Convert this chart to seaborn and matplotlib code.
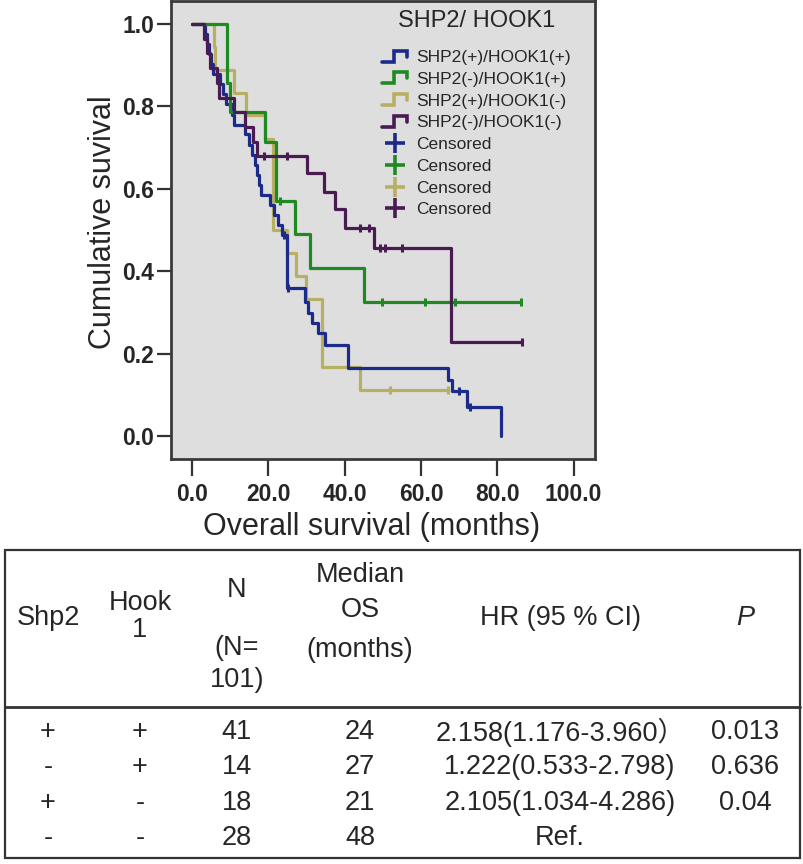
import numpy as np
import pandas as pd
import matplotlib
matplotlib.use("Agg")
import matplotlib.pyplot as plt
import seaborn as sns
from matplotlib.lines import Line2D
from matplotlib.patches import Rectangle
from matplotlib.legend_handler import HandlerBase

# Courbes de Kaplan-Meier
groups = ["SHP2(+)/HOOK1(+)", "SHP2(-)/HOOK1(+)", "SHP2(+)/HOOK1(-)", "SHP2(-)/HOOK1(-)"]
colors = ["#1c2a8a", "#1f8a22", "#b8af63", "#4a1a52"]

blue_t = [0, 3.5, 4.0, 4.5, 5.0, 5.5, 7.4, 8.0, 9.0, 10.5, 11.0, 14.0, 15.0, 15.7, 16.5, 17.0,
          17.5, 18.0, 20.5, 21.5, 22.5, 23.5, 24.9, 29.7, 30.5, 31.5, 33.0, 34.9, 41.0, 67.2,
          68.1, 72.1, 80.9]
blue_s = [1.0, 0.976, 0.951, 0.927, 0.902, 0.878, 0.854, 0.829, 0.805, 0.780, 0.756, 0.732,
          0.707, 0.683, 0.658, 0.634, 0.610, 0.585, 0.561, 0.537, 0.512, 0.488, 0.358, 0.326,
          0.298, 0.274, 0.250, 0.221, 0.164, 0.136, 0.109, 0.071, 0.0]
blue_cens = [24.0, 25.1, 69.9, 72.8]

green_t = [0, 9.2, 10.0, 19.2, 22.1, 27.1, 31.0, 45.0, 86.2]
green_s = [1.0, 0.857, 0.786, 0.714, 0.571, 0.490, 0.408, 0.326, 0.326]
green_cens = [23.0, 49.8, 61.0, 69.0, 86.2]

khaki_t = [0, 5.7, 6.0, 11.1, 14.2, 19.2, 21.2, 24.9, 27.3, 30.0, 34.0, 43.9, 67.2]
khaki_s = [1.0, 0.944, 0.889, 0.833, 0.778, 0.722, 0.500, 0.444, 0.389, 0.333, 0.167, 0.111, 0.111]
khaki_cens = [52.0, 67.2]

purple_t = [0, 3.2, 3.9, 4.8, 6.5, 7.2, 10.9, 14.0, 16.0, 17.0, 30.1, 34.5, 37.5, 40.2, 47.6,
            67.9, 86.5]
purple_s = [1.0, 0.964, 0.929, 0.893, 0.857, 0.821, 0.786, 0.750, 0.714, 0.679, 0.638, 0.593,
            0.550, 0.504, 0.456, 0.228, 0.228]
purple_cens = [18.8, 24.9, 44.1, 46.3, 49.3, 50.5, 55.0, 86.5]

x_ticks = [0, 20, 40, 60, 80, 100]
y_ticks = [0.0, 0.2, 0.4, 0.6, 0.8, 1.0]

# Tableau
col_shp2 = ["+", "-", "+", "-"]
col_hook1 = ["+", "+", "-", "-"]
col_n = ["41", "14", "18", "28"]
col_median = ["24", "27", "21", "48"]
col_hr = ["2.158(1.176-3.960）", "1.222(0.533-2.798)", "2.105(1.034-4.286)", "Ref."]
col_p = ["0.013", "0.636", "0.04", ""]

W, H = 804, 864


def fx(px):
    return px / W


def fy(py):
    return 1 - py / H


class StepHandler(HandlerBase):
    """Symbole en escalier pour la légende."""
    def create_artists(self, legend, orig_handle, xdescent, ydescent, width, height, fontsize, trans):
        xs = np.array([0.0, 0.45, 0.45, 0.95, 0.95]) * width - xdescent
        ys = np.array([0.05, 0.05, 0.95, 0.95, 0.45]) * height - ydescent
        line = Line2D(xs, ys, color=orig_handle.get_color(), lw=2.6, solid_joinstyle="miter")
        line.set_transform(trans)
        return [line]


def main():
    sns.set_style("ticks")
    plt.rcParams["font.family"] = ["Liberation Sans", "Noto Sans CJK SC", "DejaVu Sans"]

    fig = plt.figure(figsize=(W / 100, H / 100), dpi=100)
    ax = fig.add_axes([fx(171), fy(459), fx(595) - fx(171), fy(1) - fy(459)])
    ax.set_facecolor("#dedede")

    series = [
        (blue_t, blue_s, blue_cens, 3),
        (green_t, green_s, green_cens, 4),
        (khaki_t, khaki_s, khaki_cens, 2),
        (purple_t, purple_s, purple_cens, 5),
    ]
    for (t, s, cens, z), c in zip(series, colors):
        sns.lineplot(x=t, y=s, color=c, drawstyle="steps-post", estimator=None, sort=False,
                     lw=2.3, ax=ax, zorder=z)
        idx = np.searchsorted(t, cens, side="right") - 1
        cy = np.array(s)[idx]
        sns.scatterplot(x=cens, y=cy, color=c, marker="|", s=40, linewidth=2.2, ax=ax, zorder=z)

    ax.set_xlim(-5.5, 105.6)
    ax.set_ylim(-0.056, 1.056)
    ax.set_xticks(x_ticks)
    ax.set_xticklabels([f"{v:.1f}" for v in x_ticks], fontweight="bold")
    ax.set_yticks(y_ticks)
    ax.set_yticklabels([f"{v:.1f}" for v in y_ticks], fontweight="bold")
    ax.tick_params(axis="x", length=12, width=1.6, labelsize=16.5, pad=5, color="#333333")
    ax.tick_params(axis="y", length=10, width=1.6, labelsize=16.5, pad=2, color="#333333")
    ax.set_xlabel("")
    ax.set_ylabel("")
    for sp in ax.spines.values():
        sp.set_visible(True)
        sp.set_color("#3a3a3a")
        sp.set_linewidth(2)

    fig.text(fx(103), fy(222), "Cumulative suvival", rotation=90, ha="center", va="center", fontsize=22)
    fig.text(fx(372), fy(527), "Overall survival (months)", ha="center", va="center", fontsize=22)

    # Légende
    fig.text(fx(477), fy(21), "SHP2/ HOOK1", ha="center", va="center", fontsize=17)
    handles = [Line2D([], [], color=c) for c in colors]
    cens_handles = [Line2D([], [], color=c, marker="+", ms=15, mew=2.6, ls="") for c in colors]
    hmap = {h: StepHandler() for h in handles}
    ax.legend(handles + cens_handles, groups + ["Censored"] * 4, handler_map=hmap,
              fontsize=12.5, frameon=False,
              loc="upper left", bbox_to_anchor=(fx(382), fy(50)), bbox_transform=fig.transFigure,
              borderpad=0, handlelength=1.5, handletextpad=0.45, labelspacing=0.38,
              borderaxespad=0)

    # Tableau
    line_c = "#333333"
    fig.add_artist(Rectangle((fx(5), fy(858)), fx(800) - fx(5), fy(550) - fy(858),
                             transform=fig.transFigure, fill=False, ec=line_c, lw=1.6))
    fig.add_artist(Line2D([fx(5), fx(800)], [fy(707), fy(707)], transform=fig.transFigure,
                          color=line_c, lw=2))
    fs = 19.5
    hdr = [
        ("Shp2", 48, 618), ("Hook", 140, 603), ("1", 140, 630),
        ("N", 237, 590), ("(N=", 237, 648), ("101)", 237, 680),
        ("Median", 360, 575), ("OS", 360, 610), ("(months)", 360, 650),
        ("HR (95 % CI)", 560, 618),
    ]
    for txt, x, y in hdr:
        fig.text(fx(x), fy(y), txt, ha="center", va="center", fontsize=fs)
    fig.text(fx(745), fy(618), "P", ha="center", va="center", fontsize=fs, style="italic")

    row_y = [732, 767, 803, 838]
    for i, y in enumerate(row_y):
        fig.text(fx(48), fy(y), col_shp2[i], ha="center", va="center", fontsize=fs)
        fig.text(fx(140), fy(y), col_hook1[i], ha="center", va="center", fontsize=fs)
        fig.text(fx(237), fy(y), col_n[i], ha="center", va="center", fontsize=fs)
        fig.text(fx(360), fy(y), col_median[i], ha="center", va="center", fontsize=fs)
        fig.text(fx(560), fy(y), col_hr[i], ha="center", va="center", fontsize=fs)
        fig.text(fx(745), fy(y), col_p[i], ha="center", va="center", fontsize=fs)

    fig.savefig("out.png", dpi=100, facecolor="white")
    plt.close(fig)


if __name__ == "__main__":
    main()
